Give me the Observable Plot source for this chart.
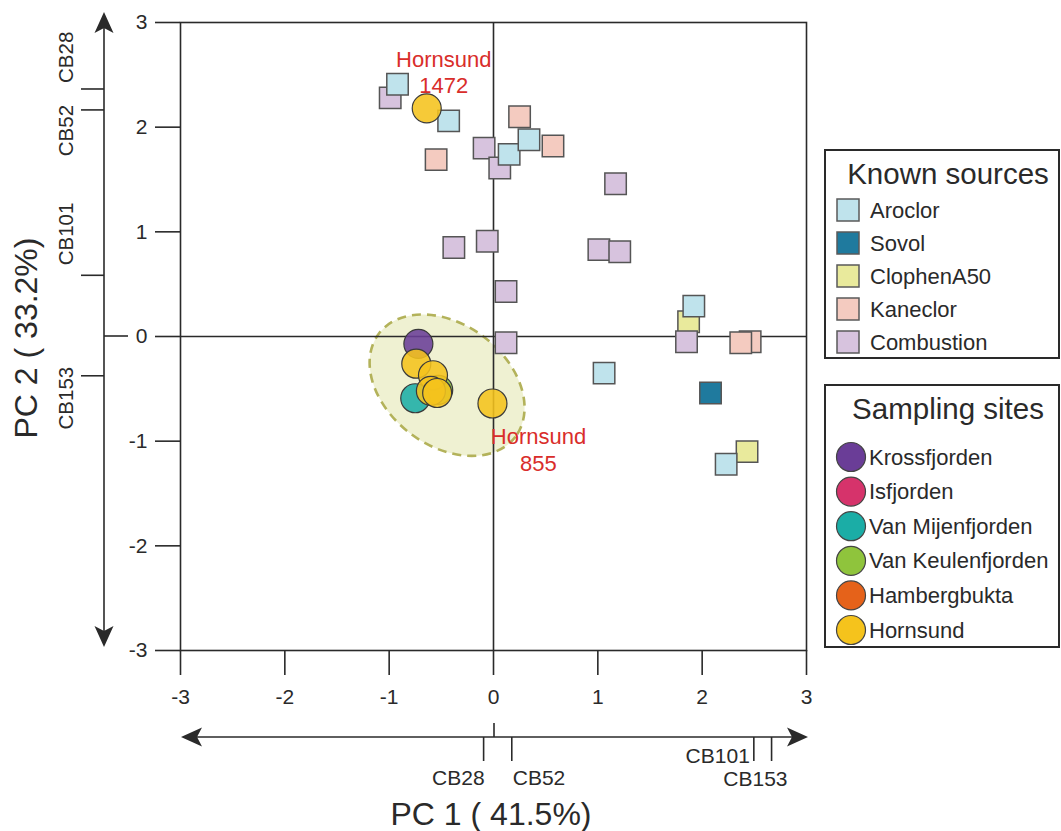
<!DOCTYPE html>
<html>
<head>
<meta charset="utf-8">
<script src="https://cdn.jsdelivr.net/npm/d3@7"></script>
<script src="https://cdn.jsdelivr.net/npm/@observablehq/plot@0.6"></script>
<style>
  body { margin: 0; background: #ffffff; }
  #chart svg { display: block; }
</style>
</head>
<body>
<div id="chart"></div>
<script>
// ---------- categories & colours ----------
const sourceNames = ["Aroclor", "Sovol", "ClophenA50", "Kaneclor", "Combustion"];
const sourceColors = ["#bfe3ec", "#1f7a9e", "#e9ea9c", "#f4cbc0", "#d7c3de"];
const siteNames = ["Krossfjorden", "Isfjorden", "Van Mijenfjorden", "Van Keulenfjorden", "Hambergbukta", "Hornsund"];
const siteColors = ["#6a3d97", "#d6336b", "#1bada6", "#8fc43c", "#e5621a", "#f5c31c"];

// ---------- tick labels ----------
const xTicks = [-3, -2, -1, 0, 1, 2, 3];
const yTicks = [-3, -2, -1, 0, 1, 2, 3];

// ---------- known sources (PC1, PC2 scores) ----------
const kaneclorPC1   = [0.25, 0.57, -0.55, 2.46, 2.37];
const kaneclorPC2   = [2.10, 1.82, 1.69, -0.05, -0.06];
const clophenPC1    = [1.87, 2.43];
const clophenPC2    = [0.14, -1.10];
const combustionPC1 = [-0.99, -0.09, 0.06, 1.17, -0.38, -0.06, 1.01, 1.21, 0.12, 0.12, 1.85];
const combustionPC2 = [2.28, 1.80, 1.61, 1.46, 0.85, 0.91, 0.83, 0.81, 0.43, -0.06, -0.05];
const aroclorPC1    = [-0.92, -0.43, 0.15, 0.34, 1.06, 1.92, 2.23];
const aroclorPC2    = [2.41, 2.06, 1.74, 1.88, -0.35, 0.29, -1.22];
const sovolPC1      = [2.08];
const sovolPC2      = [-0.54];

// ---------- sampling sites (PC1, PC2 scores) ----------
const vanKeulenPC1 = [-0.53];
const vanKeulenPC2 = [-0.51];
const vanMijenPC1  = [-0.75];
const vanMijenPC2  = [-0.59];
const krossPC1     = [-0.72];
const krossPC2     = [-0.07];
const hornsundPC1  = [-0.64, -0.74, -0.58, -0.60, -0.54, -0.01];
const hornsundPC2  = [2.18, -0.26, -0.37, -0.52, -0.54, -0.64];
const hornsundIds  = ["1472", "", "", "", "", "855"];

// ---------- loadings shown on the arrow axes ----------
const loadingNames = ["CB28", "CB52", "CB101", "CB153"];
const loadingPC1   = [-0.09, 0.18, 2.50, 2.67];
const loadingPC2   = [2.36, 2.16, 0.58, -0.38];

// ---------- confidence ellipse parameters (data units) ----------
const ellipseCenter = [-0.44, -0.47];
const ellipseSemiAxes = [0.82, 0.58];
const ellipseAngleDeg = -37;

// ---------- axis titles ----------
const xTitle = "PC 1 ( 41.5%)";
const yTitle = "PC 2 ( 33.2%)";
const legendTitles = ["Known sources", "Sampling sites"];

// ---------- build rows ----------
const zipRows = (group, xs, ys, extra) => xs.map((x, i) => ({group, x, y: ys[i], id: extra ? extra[i] : ""}));
const sourceRows = [
  ...zipRows("Kaneclor", kaneclorPC1, kaneclorPC2),
  ...zipRows("ClophenA50", clophenPC1, clophenPC2),
  ...zipRows("Combustion", combustionPC1, combustionPC2),
  ...zipRows("Aroclor", aroclorPC1, aroclorPC2),
  ...zipRows("Sovol", sovolPC1, sovolPC2)
];
const siteRows = [
  ...zipRows("Van Keulenfjorden", vanKeulenPC1, vanKeulenPC2),
  ...zipRows("Van Mijenfjorden", vanMijenPC1, vanMijenPC2),
  ...zipRows("Krossfjorden", krossPC1, krossPC2),
  ...zipRows("Hornsund", hornsundPC1, hornsundPC2, hornsundIds)
];
const label1472 = siteRows.filter(d => d.id === "1472");
const label855 = siteRows.filter(d => d.id === "855");
const loadings = loadingNames.map((name, i) => ({name, pc1: loadingPC1[i], pc2: loadingPC2[i]}));

// ---------- layout (pixels / styles only) ----------
const FONT = "'Liberation Sans', Arial, Helvetica, sans-serif";
const INK = "#2a2a2a";
const pc1LabelLayout = {
  CB28:  {anchor: "end",   dx: 1,  dy: 40},
  CB52:  {anchor: "start", dx: 1,  dy: 40},
  CB101: {anchor: "end",   dx: -4, dy: 18},
  CB153: {anchor: "end",   dx: 16, dy: 41}
};
const pc2LabelLayout = {
  CB28:  {anchor: "start", dy: -6},
  CB52:  {anchor: "end",   dy: -5},
  CB101: {anchor: "start", dy: -10},
  CB153: {anchor: "end",   dy: -9}
};

// ellipse drawn through the plot scales
function ellipseMark(index, scales) {
  const {x, y} = scales;
  const cx = x(ellipseCenter[0]), cy = y(ellipseCenter[1]);
  const rx = x(ellipseCenter[0] + ellipseSemiAxes[0]) - cx;
  const ry = y(ellipseCenter[1]) - y(ellipseCenter[1] + ellipseSemiAxes[1]);
  const g = d3.create("svg:g");
  g.append("ellipse")
    .attr("cx", 0).attr("cy", 0).attr("rx", rx).attr("ry", ry)
    .attr("transform", `translate(${cx},${cy}) rotate(${-ellipseAngleDeg})`)
    .attr("fill", "#eff1d2")
    .attr("stroke", "#b3b25a")
    .attr("stroke-width", 2.6)
    .attr("stroke-dasharray", "9,6");
  return g.node();
}

function arrowHead(g, tipX, tipY, dir) {
  const L = 21, W = 9.5, N = 5;
  let pts;
  if (dir === "up") pts = [[tipX, tipY], [tipX + W, tipY + L], [tipX, tipY + L - N], [tipX - W, tipY + L]];
  if (dir === "down") pts = [[tipX, tipY], [tipX + W, tipY - L], [tipX, tipY - L + N], [tipX - W, tipY - L]];
  if (dir === "left") pts = [[tipX, tipY], [tipX + L, tipY - W], [tipX + L - N, tipY], [tipX + L, tipY + W]];
  if (dir === "right") pts = [[tipX, tipY], [tipX - L, tipY - W], [tipX - L + N, tipY], [tipX - L, tipY + W]];
  g.append("path").attr("d", "M" + pts.map(p => p.join(",")).join("L") + "Z").attr("fill", INK).attr("stroke", "none");
}

// loadings arrow axes + axis titles
function loadingAxesMark(index, scales, values, dims) {
  const {x, y} = scales;
  const g = d3.create("svg:g").attr("font-family", FONT).attr("fill", INK).attr("text-anchor", "start");
  const lineStyle = sel => sel.attr("stroke", INK).attr("stroke-width", 1.6);

  // vertical (PC2) arrow axis
  const vx = x(-3) - 76;
  const vTop = y(3) - 10, vBot = y(-3) - 3;
  lineStyle(g.append("line").attr("x1", vx).attr("x2", vx).attr("y1", vTop + 10).attr("y2", vBot - 10));
  arrowHead(g, vx, vTop, "up");
  arrowHead(g, vx, vBot, "down");
  lineStyle(g.append("line").attr("x1", vx).attr("x2", vx + 24).attr("y1", y(0)).attr("y2", y(0)));
  for (const d of loadings) {
    const ty = y(d.pc2);
    lineStyle(g.append("line").attr("x1", vx - 23).attr("x2", vx).attr("y1", ty).attr("y2", ty));
    const lay = pc2LabelLayout[d.name];
    const tx = vx - 39, ly = ty + lay.dy;
    g.append("text")
      .attr("transform", `translate(${tx},${ly}) rotate(-90)`)
      .attr("text-anchor", lay.anchor)
      .attr("dominant-baseline", "central")
      .attr("font-size", 20.5)
      .text(d.name);
  }

  // horizontal (PC1) arrow axis
  const hy = y(-3) + 87;
  const hL = x(-3) + 1, hR = x(3) + 2;
  lineStyle(g.append("line").attr("x1", hL + 10).attr("x2", hR - 10).attr("y1", hy).attr("y2", hy));
  arrowHead(g, hL, hy, "left");
  arrowHead(g, hR, hy, "right");
  lineStyle(g.append("line").attr("x1", x(0) + 1).attr("x2", x(0) + 1).attr("y1", hy - 14).attr("y2", hy));
  for (const d of loadings) {
    const tx = x(d.pc1);
    lineStyle(g.append("line").attr("x1", tx).attr("x2", tx).attr("y1", hy).attr("y2", hy + 24));
    const lay = pc1LabelLayout[d.name];
    g.append("text")
      .attr("x", tx + lay.dx).attr("y", hy + lay.dy)
      .attr("text-anchor", lay.anchor)
      .attr("dominant-baseline", "central")
      .attr("font-size", 21)
      .text(d.name);
  }

  // axis titles
  g.append("text")
    .attr("x", x(0) - 2).attr("y", dims.height - 6)
    .attr("text-anchor", "middle")
    .attr("font-size", 32)
    .text(xTitle);
  g.append("text")
    .attr("transform", `translate(${26},${y(0) + 2}) rotate(-90)`)
    .attr("text-anchor", "middle")
    .attr("dominant-baseline", "central")
    .attr("font-size", 32)
    .text(yTitle);
  return g.node();
}

// legends
function legendMark(index, scales, values, dims) {
  const color = scales.color;
  const g = d3.create("svg:g").attr("font-family", FONT).attr("fill", INK).attr("text-anchor", "start");
  const bx = dims.width - dims.marginRight + 19; // 825
  const bw = dims.width - bx - 2;

  // Known sources box
  g.append("rect").attr("x", bx).attr("y", 150).attr("width", bw).attr("height", 208)
    .attr("fill", "#fff").attr("stroke", INK).attr("stroke-width", 2);
  g.append("text").attr("x", bx + 123).attr("y", 184).attr("text-anchor", "middle")
    .attr("font-size", 29.5).text(legendTitles[0]);
  sourceNames.forEach((name, i) => {
    const cy = 210 + i * 33;
    g.append("rect").attr("x", 837).attr("y", cy - 11).attr("width", 22).attr("height", 22)
      .attr("fill", color(name)).attr("stroke", "#5a5a5a").attr("stroke-width", 1.5);
    g.append("text").attr("x", 870).attr("y", cy).attr("dominant-baseline", "central")
      .attr("text-anchor", "start")
      .attr("font-size", 22).text(name);
  });

  // Sampling sites box
  g.append("rect").attr("x", bx).attr("y", 385).attr("width", bw).attr("height", 262)
    .attr("fill", "#fff").attr("stroke", INK).attr("stroke-width", 2);
  g.append("text").attr("x", bx + 123).attr("y", 419).attr("text-anchor", "middle")
    .attr("font-size", 29.5).text(legendTitles[1]);
  siteNames.forEach((name, i) => {
    const cy = 457 + i * 34.6;
    g.append("circle").attr("cx", 851).attr("cy", cy).attr("r", 14.5)
      .attr("fill", color(name)).attr("stroke", "#444").attr("stroke-width", 1.2);
    g.append("text").attr("x", 869).attr("y", cy).attr("dominant-baseline", "central")
      .attr("text-anchor", "start")
      .attr("font-size", 22).text(name);
  });
  return g.node();
}

const plot = Plot.plot({
  width: 1061,
  height: 831,
  marginLeft: 180,
  marginRight: 255,
  marginTop: 22,
  marginBottom: 181,
  x: {domain: [-3, 3]},
  y: {domain: [-3, 3]},
  color: {type: "ordinal", domain: [...sourceNames, ...siteNames], range: [...sourceColors, ...siteColors]},
  style: {fontFamily: FONT, color: INK, background: "#ffffff", overflow: "visible"},
  marks: [
    ellipseMark,
    Plot.ruleX([0], {stroke: INK, strokeWidth: 1.6}),
    Plot.ruleY([0], {stroke: INK, strokeWidth: 1.6}),
    Plot.frame({stroke: INK, strokeWidth: 1.6}),
    Plot.axisX({ticks: xTicks, tickSize: 25, tickPadding: 14, tickFormat: d => String(d), fontSize: 21, strokeWidth: 1.6, stroke: INK, label: null}),
    Plot.axisY({ticks: yTicks, tickSize: 25, tickPadding: 8, tickFormat: d => String(d), fontSize: 21, strokeWidth: 1.6, stroke: INK, label: null}),
    Plot.dot(sourceRows, {x: "x", y: "y", fill: "group", symbol: "square", r: 12.1, stroke: "#555", strokeWidth: 1.5}),
    Plot.dot(siteRows, {x: "x", y: "y", fill: "group", r: 14.5, stroke: "#3a3a3a", strokeWidth: 1.2, fillOpacity: 0.88}),
    Plot.text(label1472, {x: "x", y: "y", text: () => "Hornsund\n1472", dx: 17, dy: -37, fill: "#d92d2a", fontSize: 22, lineHeight: 1.2, lineAnchor: "middle", textAnchor: "middle"}),
    Plot.text(label855, {x: "x", y: "y", text: () => "Hornsund\n855", dx: 46, dy: 45, fill: "#d92d2a", fontSize: 22, lineHeight: 1.25, lineAnchor: "middle", textAnchor: "middle"}),
    loadingAxesMark,
    legendMark
  ]
});
document.getElementById("chart").appendChild(plot);
</script>
</body>
</html>
